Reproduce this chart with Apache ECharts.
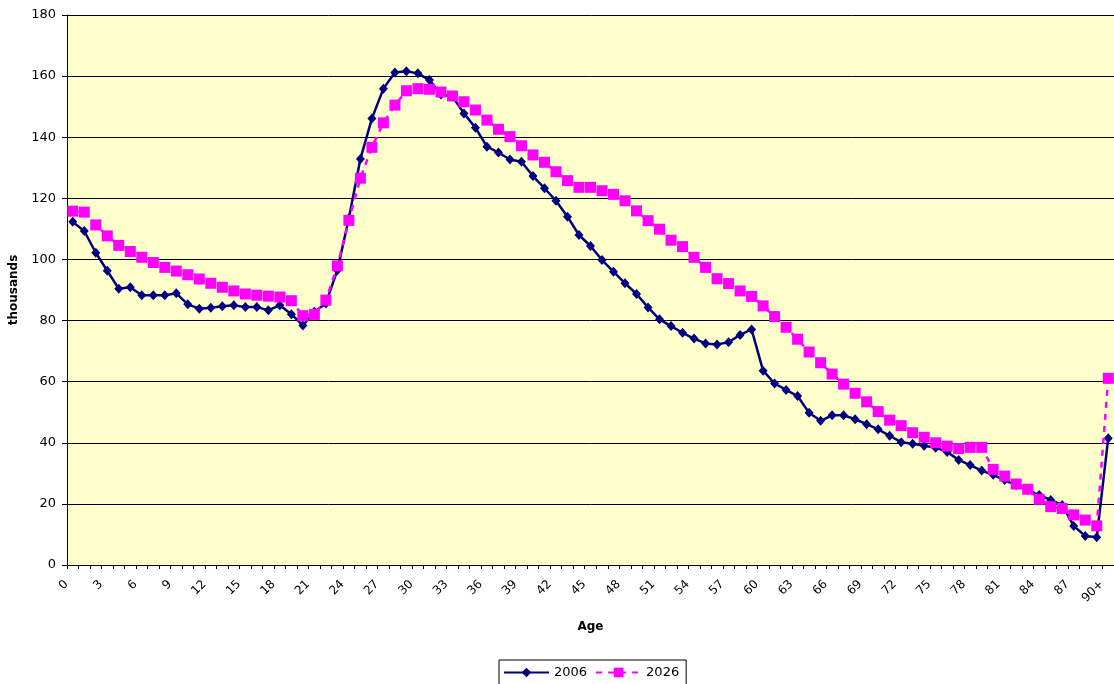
<!DOCTYPE html>
<html>
<head>
<meta charset="utf-8">
<script src="https://cdn.jsdelivr.net/npm/echarts@6/dist/echarts.min.js"></script>
<style>
  html, body { margin: 0; padding: 0; background: #fff; }
  #chart { width: 1114px; height: 684px; }
</style>
</head>
<body>
<div id="chart"></div>
<script>
// age categories 0..89 plus 90+
const ages = []
for (let a = 0; a < 90; a++) ages.push(String(a))
ages.push('90+')

// population in thousands
const pop2006 = [
  112.3, 109.3, 102.2, 96.3, 90.4, 90.9, 88.3, 88.3, 88.3, 88.9,
  85.3, 83.9, 84.2, 84.7, 85.0, 84.4, 84.4, 83.4, 85.0, 82.1,
  78.4, 82.9, 85.6, 96.5, 113.5, 132.9, 146.1, 155.9, 161.2, 161.6,
  160.9, 158.7, 154.0, 153.3, 147.8, 143.1, 136.9, 135.0, 132.7, 132.0,
  127.3, 123.3, 119.2, 114.0, 108.0, 104.4, 99.8, 96.0, 92.2, 88.7,
  84.3, 80.4, 78.2, 76.0, 74.1, 72.5, 72.2, 72.9, 75.3, 77.1,
  63.6, 59.4, 57.3, 55.3, 49.8, 47.2, 49.0, 49.0, 47.7, 46.1,
  44.4, 42.3, 40.2, 39.7, 39.0, 38.4, 37.0, 34.4, 32.7, 30.9,
  29.5, 27.8, 26.1, 24.5, 22.9, 21.3, 19.6, 12.8, 9.5, 9.1,
  41.5
]

const pop2026 = [
  115.8, 115.5, 111.3, 107.7, 104.6, 102.6, 100.7, 99.0, 97.4, 96.2,
  95.0, 93.6, 92.2, 90.9, 89.7, 88.7, 88.3, 88.0, 87.7, 86.5,
  81.6, 82.0, 86.7, 97.9, 112.8, 126.6, 136.7, 144.7, 150.5, 155.2,
  155.9, 155.7, 154.8, 153.5, 151.6, 148.9, 145.6, 142.6, 140.2, 137.2,
  134.2, 131.8, 128.7, 125.8, 123.6, 123.6, 122.5, 121.3, 119.2, 115.9,
  112.7, 109.9, 106.3, 104.2, 100.7, 97.4, 93.7, 92.1, 89.7, 87.9,
  84.8, 81.3, 77.8, 73.9, 69.7, 66.2, 62.5, 59.2, 56.2, 53.4,
  50.2, 47.4, 45.6, 43.3, 41.8, 40.0, 38.9, 38.1, 38.5, 38.5,
  31.3, 29.1, 26.5, 24.8, 21.5, 19.1, 18.5, 16.4, 14.7, 12.8,
  61.1
]

const font = 'DejaVu Sans'

const chart = echarts.init(document.getElementById('chart'))

chart.setOption({
  animation: false,
  textStyle: { fontFamily: font, color: '#000' },
  grid: {
    left: 67,
    right: -2,
    top: 15,
    bottom: 119,
    show: true,
    backgroundColor: '#FFFFCC',
    borderWidth: 0
  },
  legend: {
    top: 660,
    left: 499,
    data: ['2006', '2026'],
    borderColor: '#000',
    borderWidth: 1,
    borderRadius: 0,
    padding: [6, 7, 6, 4],
    itemGap: 8,
    itemWidth: 45,
    itemHeight: 12,
    textStyle: { fontFamily: font, fontSize: 13, color: '#000', padding: [0, 0, 0, 0] }
  },
  xAxis: {
    type: 'category',
    data: ages,
    boundaryGap: true,
    name: 'Age',
    nameLocation: 'middle',
    nameGap: 56,
    nameTextStyle: { fontFamily: font, fontSize: 12, fontWeight: 'bold', color: '#000' },
    axisLine: { lineStyle: { color: '#000', width: 1 } },
    axisTick: { show: true, interval: 0, length: 4, lineStyle: { color: '#000' } },
    axisLabel: {
      interval: 2,
      rotate: 45,
      margin: 11,
      padding: [0, 9, 0, 0],
      fontFamily: font,
      fontSize: 12,
      color: '#000'
    },
    splitLine: { show: false }
  },
  yAxis: {
    type: 'value',
    min: 0,
    max: 180,
    interval: 20,
    name: 'thousands',
    nameLocation: 'middle',
    nameGap: 45,
    nameRotate: 90,
    nameTextStyle: { fontFamily: font, fontSize: 12, fontWeight: 'bold', color: '#000' },
    axisLine: { show: true, lineStyle: { color: '#000', width: 1 } },
    axisTick: { show: true, length: 5, lineStyle: { color: '#000' } },
    axisLabel: { margin: 11, fontFamily: font, fontSize: 13, color: '#000' },
    splitLine: { show: true, lineStyle: { color: '#000', width: 1 } }
  },
  series: [
    {
      name: '2006',
      type: 'line',
      data: pop2006,
      symbol: 'diamond',
      symbolSize: [9, 10],
      showAllSymbol: true,
      color: '#000080',
      lineStyle: { color: '#000080', width: 2.5 },
      itemStyle: { color: '#000080' },
      z: 2
    },
    {
      name: '2026',
      type: 'line',
      data: pop2026,
      symbol: 'rect',
      symbolSize: 11,
      showAllSymbol: true,
      color: '#FF00FF',
      lineStyle: { color: '#FF00FF', width: 2.5, type: [6, 6] },
      itemStyle: { color: '#FF00FF' },
      z: 3
    }
  ]
})
</script>
</body>
</html>
